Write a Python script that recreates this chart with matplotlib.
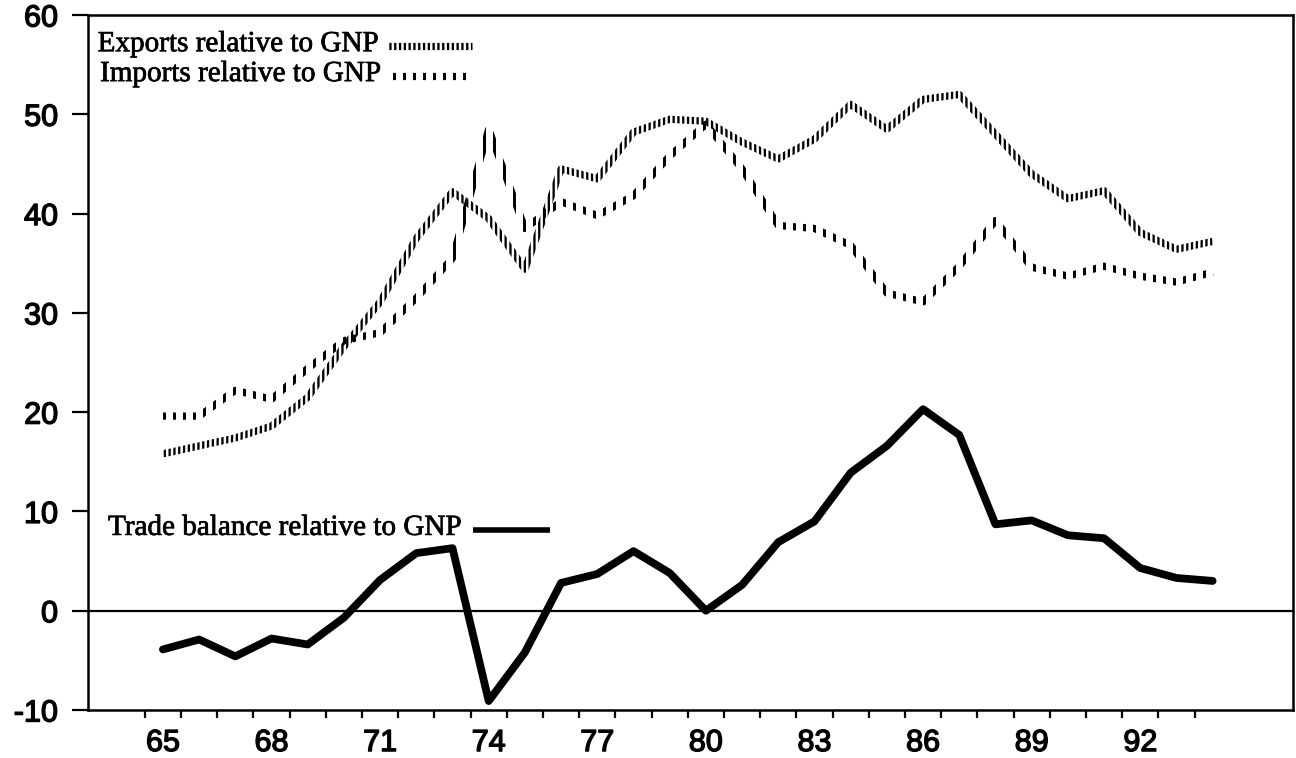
import numpy as np
import matplotlib
matplotlib.use("Agg")
import matplotlib.pyplot as plt
from matplotlib.path import Path
from matplotlib.transforms import IdentityTransform
import matplotlib.patheffects as pe

# ---------------- data ----------------
years = list(range(65, 95))
exports = [15.8, 16.6, 17.4, 18.6, 21.5, 26.6, 31.1, 37.5, 42.2, 39.5,
           34.4, 44.5, 43.5, 48.2, 49.5, 49.3, 47.2, 45.5, 47.5, 51.0,
           48.5, 51.5, 52.0, 48.0, 44.0, 41.5, 42.3, 38.1, 36.4, 37.2]
imports = [19.6, 19.6, 22.2, 21.3, 24.4, 27.2, 28.0, 31.5, 35.5, 48.5,
           38.5, 41.2, 39.8, 41.8, 45.8, 49.0, 44.5, 38.8, 38.5, 36.8,
           32.0, 31.1, 34.7, 39.3, 34.6, 33.7, 34.7, 33.7, 33.1, 34.1]
balance = [-3.9, -2.9, -4.6, -2.8, -3.4, -0.7, 3.1, 5.8, 6.3, -9.1,
           -4.2, 2.8, 3.7, 6.0, 3.8, 0.0, 2.6, 6.9, 9.0, 13.9,
           16.6, 20.3, 17.7, 8.7, 9.1, 7.6, 7.3, 4.3, 3.3, 3.0]
xtick_labels = ["65", "68", "71", "74", "77", "80", "83", "86", "89", "92"]
yticks = [-10, 0, 10, 20, 30, 40, 50, 60]
label_exports = "Exports relative to GNP"
label_imports = "Imports relative to GNP"
label_balance = "Trade balance relative to GNP"

# ---------------- figure ----------------
W, H = 1296, 758
fig = plt.figure(figsize=(W / 100, H / 100), dpi=100)
fig.patch.set_facecolor("white")
ax = fig.add_axes([88 / W, 1 - 710 / H, (1293 - 88) / W, (710 - 15) / H])

ax.set_xlim(62.93, 96.22)
ax.set_ylim(-10, 60)

for s in ax.spines.values():
    s.set_linewidth(1.8)
    s.set_color("black")


def stripe_path(period, width, offset=0.0):
    verts, codes = [], []
    x = offset
    while x < W:
        verts += [(x, 0), (x + width, 0), (x + width, H), (x, H), (x, 0)]
        codes += [Path.MOVETO, Path.LINETO, Path.LINETO, Path.LINETO,
                  Path.CLOSEPOLY]
        x += period
    return Path(verts, codes)


exp_clip = stripe_path(4.8, 2.3, 0.5)
imp_clip = stripe_path(10.0, 2.6, 3.0)

# zero line
ax.axhline(0, color="black", lw=1.6, zorder=1)

# series
l_exp, = ax.plot(years, exports, color="black", lw=5.2,
                 solid_capstyle="butt", solid_joinstyle="round", zorder=3)
l_exp.set_clip_path(exp_clip, IdentityTransform())
l_imp, = ax.plot(years, imports, color="black", lw=5.2,
                 solid_capstyle="butt", solid_joinstyle="round", zorder=3)
l_imp.set_clip_path(imp_clip, IdentityTransform())
ax.plot(years, balance, color="black", lw=5.6,
        solid_capstyle="round", solid_joinstyle="round", zorder=4)

# legend-like labels
serif = "Liberation Serif"
txt_fx = [pe.withStroke(linewidth=0.5, foreground="black")]
ax.text(0.008, 0.958, label_exports, transform=ax.transAxes, fontsize=21,
        family=serif, va="center", ha="left", path_effects=txt_fx)
s1, = ax.plot([0.248, 0.319], [0.955, 0.955], transform=ax.transAxes,
              color="black", lw=5.2, solid_capstyle="butt")
s1.set_clip_path(exp_clip, IdentityTransform())
ax.text(0.010, 0.915, label_imports, transform=ax.transAxes, fontsize=21,
        family=serif, va="center", ha="left", path_effects=txt_fx)
s2, = ax.plot([0.249, 0.315], [0.912, 0.912], transform=ax.transAxes,
              color="black", lw=5.2, solid_capstyle="butt")
s2.set_clip_path(imp_clip, IdentityTransform())
ax.text(0.0166, 0.262, label_balance, transform=ax.transAxes, fontsize=21,
        family=serif, va="center", ha="left", path_effects=txt_fx)
ax.plot([0.3195, 0.383], [0.259, 0.259], transform=ax.transAxes,
        color="black", lw=4.0, solid_capstyle="butt")

# ticks
tick_fx = [pe.withStroke(linewidth=1.0, foreground="black")]
ax.set_yticks(yticks)
ax.set_yticklabels([str(v) for v in yticks])
ax.tick_params(axis="y", direction="out", length=11.5, width=1.6, pad=10,
               labelsize=22, labelfontfamily="Liberation Sans")

label_pos = [int(t) for t in xtick_labels]
ax.set_xticks(label_pos)
ax.set_xticklabels(xtick_labels)
ax.set_xticks([y - 0.5 for y in years], minor=True)
ax.tick_params(axis="x", which="major", length=0, pad=13, labelsize=22,
               labelfontfamily="Liberation Sans")
ax.tick_params(axis="x", which="minor", direction="out", length=6, width=1.6)
for lab in ax.get_xticklabels() + ax.get_yticklabels():
    lab.set_path_effects(tick_fx)

fig.savefig("out.png", dpi=100, facecolor="white")
